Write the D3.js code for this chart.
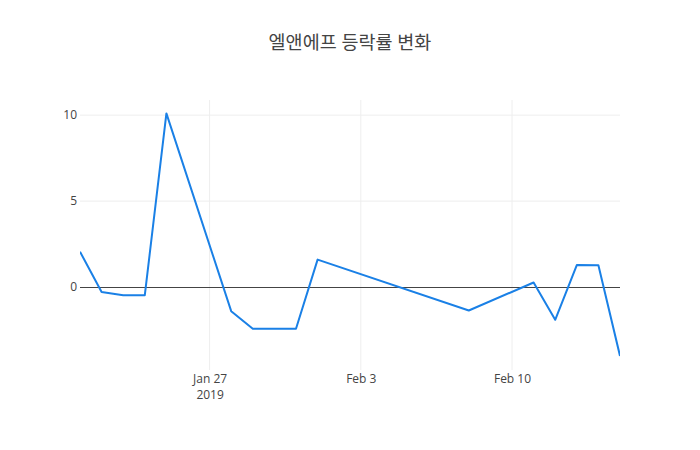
<!doctype html>
<html>
<head>
<meta charset="utf-8">
<script src="https://d3js.org/d3.v7.min.js"></script>
<style>
  body { margin: 0; background: #fff; }
  text { font-family: "Open Sans", "Noto Sans CJK KR", sans-serif; fill: #444; }
</style>
</head>
<body>
<svg id="chart" width="700" height="450"></svg>
<script>
  // trading days and daily change (%)
  var dates = ["2019-01-21","2019-01-22","2019-01-23","2019-01-24","2019-01-25",
               "2019-01-28","2019-01-29","2019-01-30","2019-01-31","2019-02-01",
               "2019-02-08","2019-02-11","2019-02-12","2019-02-13","2019-02-14","2019-02-15"];
  var changes = [2.06, -0.29, -0.47, -0.47, 10.1,
                 -1.4, -2.42, -2.42, -2.42, 1.6,
                 -1.36, 0.27, -1.9, 1.28, 1.27, -4.0];
  var yTicks = [0, 5, 10];
  var xTicks = ["2019-01-27", "2019-02-03", "2019-02-10"];
  var title = "엘앤에프 등락률 변화";

  var parse = d3.timeParse("%Y-%m-%d");
  var data = dates.map(function(d, i) { return { date: parse(d), value: changes[i] }; });

  var svg = d3.select("#chart"),
      margin = { left: 80, right: 80, top: 100, bottom: 80 },
      width = +svg.attr("width") - margin.left - margin.right,
      height = +svg.attr("height") - margin.top - margin.bottom;

  var x = d3.scaleTime()
            .domain(d3.extent(data, function(d) { return d.date; }))
            .range([0, width]);
  var y = d3.scaleLinear().domain([-4.82, 10.88]).range([height, 0]);

  svg.append("text")
     .attr("x", 350)
     .attr("y", 49)
     .attr("text-anchor", "middle")
     .style("font-size", "18.5px")
     .text(title);

  var g = svg.append("g")
             .attr("transform", "translate(" + margin.left + "," + margin.top + ")");

  // grid
  g.selectAll(".vgrid")
   .data(xTicks.map(parse))
   .enter().append("line")
   .attr("x1", function(d) { return x(d); })
   .attr("x2", function(d) { return x(d); })
   .attr("y1", 0).attr("y2", height)
   .attr("stroke", "#eee").attr("stroke-width", 1);

  g.selectAll(".hgrid")
   .data(yTicks.filter(function(d) { return d !== 0; }))
   .enter().append("line")
   .attr("x1", 0).attr("x2", width)
   .attr("y1", function(d) { return y(d); })
   .attr("y2", function(d) { return y(d); })
   .attr("stroke", "#eee").attr("stroke-width", 1);

  // zero line
  g.append("line")
   .attr("x1", 0).attr("x2", width)
   .attr("y1", y(0)).attr("y2", y(0))
   .attr("stroke", "#444").attr("stroke-width", 1)
   .attr("shape-rendering", "crispEdges");

  // y axis labels
  var yAxis = g.append("g")
               .call(d3.axisLeft(y).tickValues(yTicks).tickSize(0).tickPadding(3));
  yAxis.select(".domain").remove();
  yAxis.selectAll("text").style("font-size", "12px").attr("fill", "#444");

  // x axis labels
  var fmt = d3.timeFormat("%b %-d");
  var xAxis = g.append("g")
               .attr("transform", "translate(0," + height + ")")
               .call(d3.axisBottom(x).tickValues(xTicks.map(parse)).tickFormat(fmt).tickSize(0).tickPadding(4));
  xAxis.select(".domain").remove();
  xAxis.selectAll("text").style("font-size", "12px").attr("fill", "#444");
  xAxis.selectAll(".tick")
       .filter(function(d, i) { return i === 0; })
       .append("text")
       .attr("y", 20)
       .attr("dy", "0.71em")
       .attr("text-anchor", "middle")
       .style("font-size", "12px")
       .attr("fill", "#444")
       .text("2019");

  g.append("clipPath").attr("id", "clip")
   .append("rect").attr("width", width).attr("height", height);

  g.append("path")
   .datum(data)
   .attr("clip-path", "url(#clip)")
   .attr("d", d3.line()
     .x(function(d) { return x(d.date); })
     .y(function(d) { return y(d.value); }))
   .attr("fill", "none")
   .attr("stroke", "#1a80e6")
   .attr("stroke-width", 2)
   .attr("stroke-linejoin", "round");
</script>
</body>
</html>
